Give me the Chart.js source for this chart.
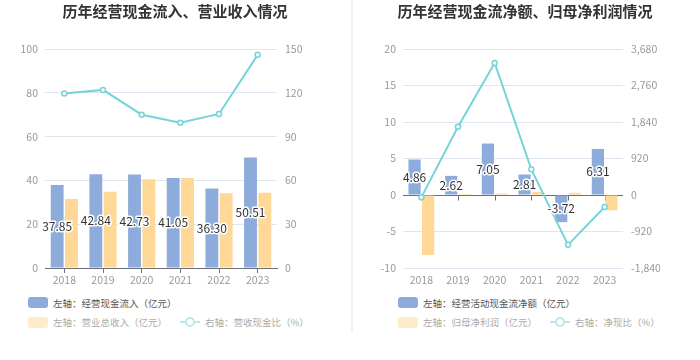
<!DOCTYPE html>
<html>
<head>
<meta charset="utf-8">
<script src="https://cdn.jsdelivr.net/npm/chart.js@4.4.1/dist/chart.umd.min.js"></script>
<style>
    body { margin: 0; background: #fff; width: 700px; height: 360px; overflow: hidden; font-family: "Noto Sans CJK SC", sans-serif; }
    .panel { position: absolute; top: 0; width: 350px; height: 360px; }
    .panel canvas { position: absolute; left: 0; top: 0; }
    .sep { position: absolute; left: 351px; top: 0; width: 2px; height: 333px; background: #f3f3f3; }
    .legend { position: absolute; top: 297px; font-size: 9.5px; color: #555; }
    .row { display: flex; align-items: center; height: 11px; margin-bottom: 8.6px; white-space: nowrap; }
    .row.dim { opacity: 0.5; }
    .item { display: flex; align-items: center; margin-right: 13px; }
    .box { width: 20px; height: 11px; border-radius: 3px; margin-right: 5px; }
    .lineicon { position: relative; width: 20px; height: 11px; margin-right: 5px; }
    .lineicon .l { position: absolute; left: 0; top: 4.5px; width: 20px; height: 2px; }
    .lineicon .c { position: absolute; left: 5px; top: 0.5px; width: 6px; height: 6px; border-radius: 50%; background: #fff; border: 2px solid; }
</style>
</head>
<body>
<div class="panel" style="left:0"><canvas id="c1" width="350" height="290"></canvas><div class="legend" id="lg1" style="left:28px"></div></div>
<div class="sep"></div>
<div class="panel" style="left:350px"><canvas id="c2" width="350" height="290"></canvas><div class="legend" id="lg2" style="left:48px"></div></div>
<script>
const years = ['2018', '2019', '2020', '2021', '2022', '2023'];

// 左图：经营现金流入、营业总收入（亿元），营收现金比（%）
const cashInflow = [37.85, 42.84, 42.73, 41.05, 36.30, 50.51];
const revenue = [31.5, 34.8, 40.5, 41.1, 34.1, 34.4];
const inflowRatio = [119.5, 122, 105, 99.5, 105.5, 146];
const leftTicksA = [0, 20, 40, 60, 80, 100];
const rightTicksA = [0, 30, 60, 90, 120, 150];

// 右图：经营活动现金流净额、归母净利润（亿元），净现比（%）
const netCash = [4.86, 2.62, 7.05, 2.81, -3.72, 6.31];
const netProfit = [-8.2, 0.15, 0.21, 0.44, 0.30, -2.09];
const netRatio = [-59, 1720, 3330, 646, -1257, -302];
const leftTicksB = [-10, -5, 0, 5, 10, 15, 20];
const rightTicksB = [-1840, -920, 0, 920, 1840, 2760, 3680];

const BLUE = '#8dacdb';
const ORANGE = '#ffd797';
const TEAL = '#76d4d8';
const FONT = '"Noto Sans CJK SC", "Noto Sans", sans-serif';
Chart.defaults.font.family = FONT;

function range(t) {
    return { min: t[0], max: t[t.length - 1], stepSize: t[1] - t[0] };
}

// 蓝色柱子中间的数值标签
const barLabels = {
    id: 'barLabels',
    afterDatasetsDraw(chart) {
        const ctx = chart.ctx;
        const meta = chart.getDatasetMeta(0);
        const data = chart.data.datasets[0].data;
        ctx.save();
        ctx.font = '12px ' + FONT;
        ctx.textAlign = 'center';
        ctx.textBaseline = 'middle';
        ctx.lineJoin = 'round';
        ctx.lineWidth = 3;
        ctx.strokeStyle = '#fff';
        ctx.fillStyle = '#333';
        meta.data.forEach((bar, i) => {
            const txt = data[i].toFixed(2);
            const y = (bar.y + bar.base) / 2;
            ctx.strokeText(txt, bar.x, y);
            ctx.fillText(txt, bar.x, y);
        });
        ctx.restore();
    }
};

// 右图 x 轴线画在 0 处
const zeroAxis = {
    id: 'zeroAxis',
    beforeDatasetsDraw(chart) {
        const { ctx, chartArea, scales } = chart;
        const y0 = Math.round(scales.y.getPixelForValue(0)) + 0.5;
        ctx.save();
        ctx.strokeStyle = '#6e7079';
        ctx.lineWidth = 1;
        ctx.beginPath();
        ctx.moveTo(chartArea.left, y0);
        ctx.lineTo(chartArea.right, y0);
        chart.data.labels.forEach((l, i) => {
            const x = Math.round(scales.x.getPixelForValue(i)) + 0.5;
            ctx.moveTo(x, y0);
            ctx.lineTo(x, y0 + 5);
        });
        ctx.stroke();
        ctx.restore();
    }
};

function makeChart(id, cfg) {
    const tickFont = { size: 10.5 };
    return new Chart(document.getElementById(id), {
        type: 'bar',
        data: {
            labels: years,
            datasets: [
                { label: cfg.labels[0], data: cfg.bars1, backgroundColor: BLUE, yAxisID: 'y', order: 1,
                  categoryPercentage: 0.74, barPercentage: 0.9 },
                { label: cfg.labels[1], data: cfg.bars2, backgroundColor: ORANGE, yAxisID: 'y', order: 1,
                  categoryPercentage: 0.74, barPercentage: 0.9 },
                { type: 'line', label: cfg.labels[2], data: cfg.line, yAxisID: 'y1', order: 0,
                  borderColor: TEAL, borderWidth: 2, pointRadius: 2.5, pointBorderWidth: 1.5,
                  pointBackgroundColor: '#fff', pointBorderColor: TEAL, tension: 0 }
            ]
        },
        options: {
            responsive: false,
            animation: false,
            layout: { padding: 0 },
            plugins: {
                legend: { display: false },
                tooltip: { enabled: false },
                title: {
                    display: true,
                    text: cfg.title,
                    color: '#333',
                    font: { size: 15, weight: 'bold' },
                    padding: { top: 2, bottom: 29 }
                }
            },
            scales: {
                x: {
                    grid: cfg.zeroAxis
                        ? { display: false, drawTicks: false }
                        : { display: true, drawOnChartArea: false, drawTicks: true, tickLength: 5, offset: false, color: '#6e7079' },
                    border: cfg.zeroAxis ? { display: false } : { color: '#6e7079' },
                    ticks: { color: '#999', font: tickFont, padding: cfg.zeroAxis ? 6 : 1 },
                    afterFit: s => { s.height = 22; }
                },
                y: {
                    ...range(cfg.leftTicks),
                    ticks: { stepSize: cfg.leftTicks[1] - cfg.leftTicks[0], color: '#999', font: tickFont, padding: 7 },
                    grid: { color: '#e0e6f1', drawTicks: false },
                    border: { display: false },
                    afterFit: s => { s.width = cfg.leftW; }
                },
                y1: {
                    position: 'right',
                    ...range(cfg.rightTicks),
                    ticks: { stepSize: cfg.rightTicks[1] - cfg.rightTicks[0], color: '#999', font: tickFont, padding: 8 },
                    grid: { drawOnChartArea: false, drawTicks: false },
                    border: { display: false },
                    afterFit: s => { s.width = cfg.rightW; }
                }
            }
        },
        plugins: cfg.zeroAxis ? [zeroAxis, barLabels] : [barLabels]
    });
}

function buildLegend(elId, chart) {
    const el = document.getElementById(elId);
    const ds = chart.data.datasets;
    const rows = [[0], [1, 2]];
    rows.forEach((r, ri) => {
        const row = document.createElement('div');
        row.className = ri === 0 ? 'row' : 'row dim';
        r.forEach(i => {
            const item = document.createElement('div');
            item.className = 'item';
            if (ds[i].type === 'line') {
                item.innerHTML = '<span class="lineicon"><span class="l" style="background:' + ds[i].borderColor +
                    '"></span><span class="c" style="border-color:' + ds[i].borderColor + '"></span></span>';
            } else {
                item.innerHTML = '<span class="box" style="background:' + ds[i].backgroundColor + '"></span>';
            }
            const t = document.createElement('span');
            t.textContent = ds[i].label;
            item.appendChild(t);
            row.appendChild(item);
        });
        el.appendChild(row);
    });
}

const chart1 = makeChart('c1', {
    title: '历年经营现金流入、营业收入情况',
    labels: ['左轴：经营现金流入（亿元）', '左轴：营业总收入（亿元）', '右轴：营收现金比（%）'],
    bars1: cashInflow, bars2: revenue, line: inflowRatio,
    leftTicks: leftTicksA, rightTicks: rightTicksA,
    leftW: 45, rightW: 73, zeroAxis: false
});

const chart2 = makeChart('c2', {
    title: '历年经营现金流净额、归母净利润情况',
    labels: ['左轴：经营活动现金流净额（亿元）', '左轴：归母净利润（亿元）', '右轴：净现比（%）'],
    bars1: netCash, bars2: netProfit, line: netRatio,
    leftTicks: leftTicksB, rightTicks: rightTicksB,
    leftW: 53, rightW: 77, zeroAxis: true
});

buildLegend('lg1', chart1);
buildLegend('lg2', chart2);
</script>
</body>
</html>
